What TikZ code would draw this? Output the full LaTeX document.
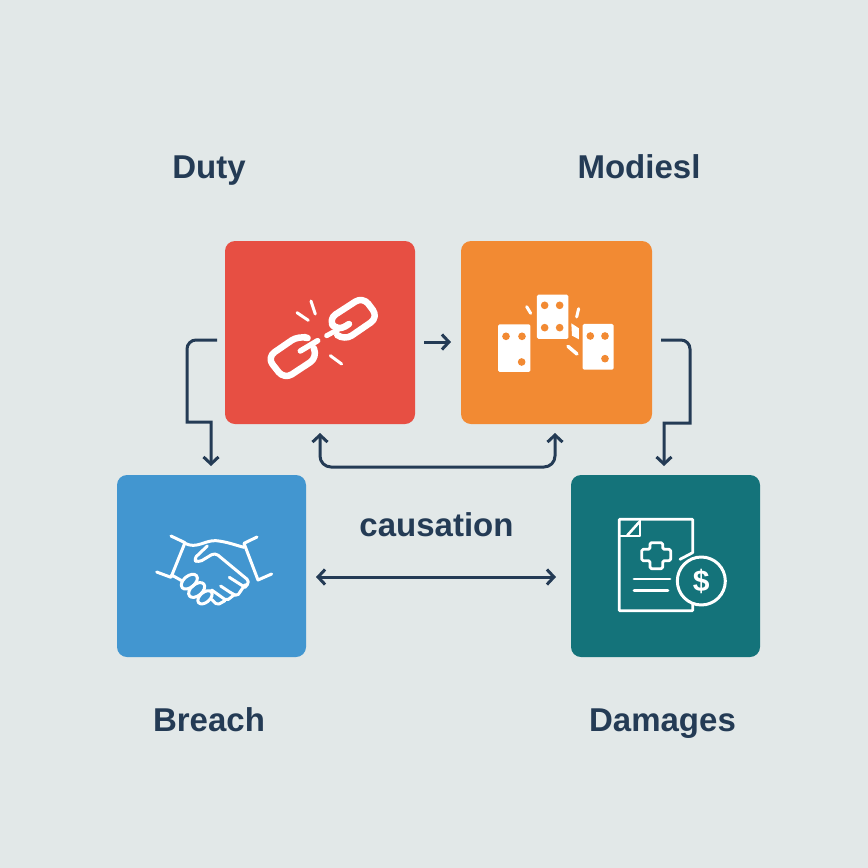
\documentclass[tikz,border=0pt]{standalone}
\usepackage{fontspec}
\setmainfont{Liberation Sans}
\usetikzlibrary{arrows.meta,calc}
\definecolor{bg}{HTML}{E2E8E8}
\definecolor{ink}{HTML}{243B55}
\definecolor{cred}{HTML}{E74F43}
\definecolor{corange}{HTML}{F28A33}
\definecolor{cblue}{HTML}{4296D0}
\definecolor{cteal}{HTML}{14737A}
\tikzset{
  card/.style={rounded corners=10pt,inner sep=0pt,outer sep=0pt,draw=none},
  lbl/.style={font=\bfseries\fontsize{33}{36}\selectfont,text=ink,anchor=base,inner sep=0pt},
  barb/.style={Straight Barb[length=7pt,width=15pt,line width=3pt]},
  conn/.style={draw=ink,line width=3pt,-{Straight Barb[length=7pt,width=15pt,line width=3pt]}},
  conn2/.style={draw=ink,line width=3pt,rounded corners=11pt,{Straight Barb[length=7pt,width=15pt,line width=3pt]}-{Straight Barb[length=7pt,width=15pt,line width=3pt]}},
  ico/.style={draw=white,line cap=round,line join=round},
  zoomed/.style={shift={(#1)},scale=0.3333}
}
\begin{document}
\begin{tikzpicture}[x=1pt,y=-1pt]
\useasboundingbox (0,0) rectangle (868,868);
\fill[bg] (0,0) rectangle (868,868);
% cards
\node[card,fill=cred,minimum width=190pt,minimum height=183pt] (duty) at (320,332.5) {};
\node[card,fill=corange,minimum width=191pt,minimum height=183pt] (modi) at (556.5,332.5) {};
\node[card,fill=cblue,minimum width=189pt,minimum height=182pt] (breach) at (211.5,566) {};
\node[card,fill=cteal,minimum width=189pt,minimum height=182pt] (damages) at (665.5,566) {};
% labels
\node[lbl] (tduty) at (209,178) {Duty};
\node[lbl] (tmodi) at (639,178) {Modiesl};
\node[lbl] (tcaus) at (436.5,536) {causation};
\node[lbl] (tbreach) at (209,731) {Breach};
\node[lbl] (tdam) at (662.5,731) {Damages};
% connector ends
\coordinate (dm1) at (424,342);
\coordinate (dm2) at (451,342);
\coordinate (l1) at (217,340);
\coordinate (l2) at (211,466);
\coordinate (r1) at (661,340);
\coordinate (r2) at (664,466);
\coordinate (b1) at (320,433);
\coordinate (b2) at (555,433);
\coordinate (c1) at (316,577);
\coordinate (c2) at (556,577);
\draw[conn] (dm1) -- (dm2);
\draw[conn] (l1) [rounded corners=9pt] -- (187,340) [sharp corners] -- (187,422) -- (211,422) -- (l2);
\draw[conn] (r1) [rounded corners=9pt] -- (690,340) [sharp corners] -- (690,423) -- (664,423) -- (r2);
\draw[conn2] (b1) -- (320,467) -- (555,467) -- (b2);
\draw[conn2] (c1) -- (c2);
% chain icon
\begin{scope}[zoomed={225,240}]
\draw[ico,line width=6.5pt,rounded corners=9pt] (372,252) -- (338,274) -- (309,238) -- (414,170) -- (460,232) -- (358,302) -- (338,286);
\draw[ico,line width=5pt] (305,287) -- (368,253);
\draw[ico,line width=6.5pt,rounded corners=9pt] (238,291) -- (222,286) -- (126,352) -- (178,418) -- (278,352) -- (266,324);
\draw[ico,line width=5.5pt] (226,333) -- (278,302);
\draw[ico,line width=3pt] (216,218) -- (250,241);
\draw[ico,line width=3pt] (258,183) -- (271,222);
\draw[ico,line width=3pt] (316,347) -- (350,372);
\end{scope}
% dice icon
\begin{scope}[zoomed={460,240}]
\fill[white,rounded corners=1.5pt] (114,253) rectangle (211,396);
\fill[white,rounded corners=1.5pt] (231,164) rectangle (325,297);
\fill[white,rounded corners=1.5pt] (368,252) rectangle (461,389);
\foreach \p in {(138,289),(186,289),(185,366),(254,196),(299,196),(254,263),(299,263),(391,288),(435,288),(435,356)}
  \fill[corange] \p circle (11.5);
\fill[white] (334,250) -- (357,265) -- (357,298) -- (336,287) -- cycle;
\draw[ico,line width=3pt] (200,200) -- (212,220);
\draw[ico,line width=3pt] (356,206) -- (350,231);
\draw[ico,line width=3.5pt] (324,319) -- (351,342);
\end{scope}
% handshake icon
\begin{scope}[zoomed={130,510}]
\draw[ico,line width=3pt] (123,78) -- (165,98) -- (123,202) -- (80,186);
\draw[ico,line width=3pt] (381,81) -- (342,100) -- (384,210) -- (425,192);
\draw[ico,line width=3pt] (165,100) .. controls (200,118) and (225,90) .. (258,92) .. controls (290,95) and (315,105) .. (342,112);
\draw[ico,line width=3pt,rounded corners=4pt] (232,108) -- (190,148) -- (205,158) -- (255,128) -- (360,215) -- (345,232);
\draw[ico,line width=3pt] (125,195) -- (155,212);
\draw[ico,line width=3pt] (345,232) -- (298,202);
\draw[ico,line width=3pt,rounded corners=2pt] (345,224) -- (322,258) -- (305,250) -- (272,228);
\draw[ico,line width=3pt,rounded corners=2pt] (312,255) -- (290,272) -- (245,240);
\draw[ico,line width=3pt,rounded corners=2pt] (285,272) -- (262,285) -- (245,268);
\draw[ico,line width=3pt,rotate around={40:(178,215)}] (178,215) ellipse (28 and 17);
\draw[ico,line width=3pt,rotate around={40:(200,240)}] (200,240) ellipse (28 and 17);
\draw[ico,line width=3pt,rotate around={40:(225,262)}] (225,262) ellipse (25 and 15);
\end{scope}
% invoice icon
\begin{scope}[zoomed={600,500}]
\draw[ico,line width=2.8pt] (240,178) -- (278,158) -- (278,58) -- (58,58) -- (58,332) -- (278,332) -- (278,308);
\draw[ico,line width=2.6pt] (120,58) -- (120,108) -- (60,108);
\draw[ico,line width=2.6pt] (82,106) -- (118,66);
\draw[ico,line width=2.8pt,rounded corners=1.5pt] (150,128) -- (188,128) -- (188,148) -- (212,148) -- (212,182) -- (188,182) -- (188,206) -- (150,206) -- (150,182) -- (125,182) -- (125,148) -- (150,148) -- cycle;
\draw[ico,line width=2.8pt] (102,237) -- (210,237);
\draw[ico,line width=2.8pt] (102,271) -- (204,271);
\fill[cteal] (304,243) circle (72);
\draw[ico,line width=3pt] (304,243) circle (72);
\node[inner sep=0pt,text=white,font=\bfseries\fontsize{30}{32}\selectfont] (dollar) at (304,243) {\$};
\end{scope}
\end{tikzpicture}
\end{document}
